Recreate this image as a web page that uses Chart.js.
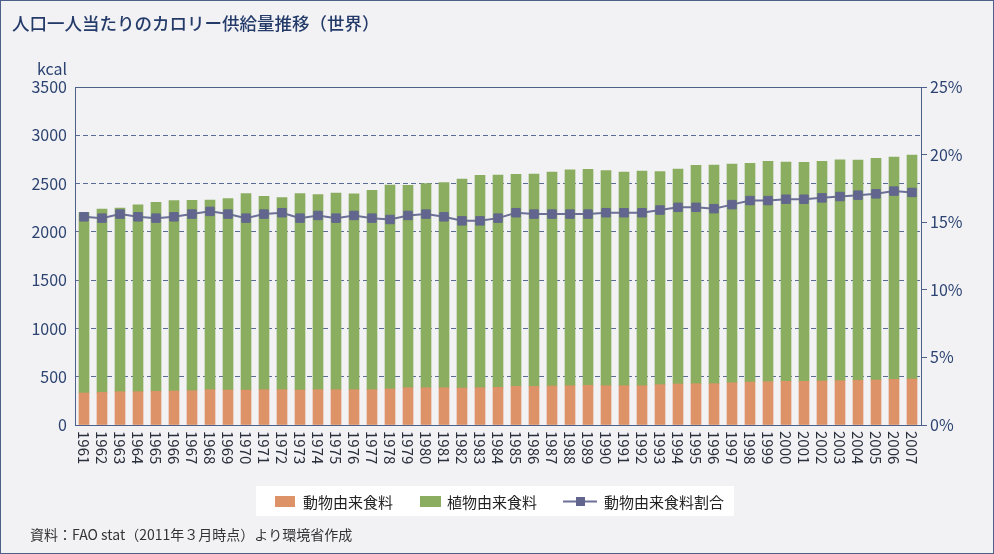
<!DOCTYPE html>
<html><head><meta charset="utf-8">
<script src="https://cdn.jsdelivr.net/npm/chart.js@4"></script>
<style>
html,body{margin:0;padding:0;background:#f2f2f5;}
#wrap{width:994px;height:554px;position:relative;}
</style></head><body><div id="wrap"><canvas id="c"></canvas></div>
<script>
const years = ['1961','1962','1963','1964','1965','1966','1967','1968','1969','1970','1971','1972','1973','1974','1975','1976','1977','1978','1979','1980','1981','1982','1983','1984','1985','1986','1987','1988','1989','1990','1991','1992','1993','1994','1995','1996','1997','1998','1999','2000','2001','2002','2003','2004','2005','2006','2007'];
const animal = [331,338,345,345,349,352,355,366,362,362,366,366,362,366,366,366,366,373,386,386,386,383,386,390,400,400,404,407,411,407,407,407,418,425,428,428,438,445,449,452,452,456,459,463,466,473,476];
const plant = [1872,1899,1902,1936,1957,1971,1972,1964,1982,2034,2002,1988,2034,2019,2036,2028,2064,2112,2096,2113,2123,2164,2199,2199,2196,2199,2216,2234,2237,2227,2213,2223,2205,2226,2261,2264,2265,2265,2281,2271,2268,2274,2288,2281,2295,2302,2320];
const ratio = [15.4,15.3,15.6,15.4,15.3,15.4,15.6,15.8,15.6,15.3,15.6,15.7,15.3,15.5,15.3,15.5,15.3,15.2,15.5,15.6,15.4,15.1,15.1,15.3,15.7,15.6,15.6,15.6,15.6,15.7,15.7,15.7,15.9,16.1,16.1,16.0,16.3,16.6,16.6,16.7,16.7,16.8,16.9,17.0,17.1,17.3,17.2];
const leftMax = 3500, leftStep = 500;
const rightMax = 25, rightStep = 5;
const titleText = '人口一人当たりのカロリー供給量推移（世界）';
const unitText = 'kcal';
const sourceText = '資料：FAO stat（2011年３月時点）より環境省作成';
const seriesNames = ['動物由来食料','植物由来食料','動物由来食料割合'];

const FONT = '"Noto Sans CJK JP", "Noto Sans", sans-serif';
const NAVY = '#2c4371';
const FRAME = '#4d6089';
const ORANGE = '#dd9367';
const GREEN = '#8bad5f';
const LINEC = '#6c6f96';
const MARK = '#62668e';

const decor = {
  id: 'decor',
  beforeDraw(chart) {
    const ctx = chart.ctx;
    ctx.save();
    ctx.fillStyle = '#f2f2f5';
    ctx.fillRect(0, 0, chart.width, chart.height);
    ctx.restore();
  },
  afterDraw(chart) {
    const ctx = chart.ctx;
    const a = chart.chartArea;
    const xs = chart.scales.x;
    ctx.save();
    ctx.strokeStyle = FRAME;
    ctx.lineWidth = 1;
    ctx.strokeRect(Math.round(a.left) + 0.5, Math.round(a.top) + 0.5, Math.round(a.right - a.left), Math.round(a.bottom - a.top));
    ctx.fillStyle = '#243b69';
    ctx.font = '500 17.5px ' + FONT;
    ctx.textAlign = 'left';
    ctx.textBaseline = 'middle';
    ctx.fillText(titleText, 12, 23);
    ctx.fillStyle = NAVY;
    ctx.font = '16px ' + FONT;
    ctx.textAlign = 'right';
    ctx.fillText(unitText, 67, 69);
    ctx.font = '15px ' + FONT;
    ctx.textAlign = 'left';
    ctx.textBaseline = 'middle';
    ctx.fillStyle = '#2a2f3c';
    years.forEach((y, i) => {
      const px = xs.getPixelForValue(i);
      ctx.save();
      ctx.translate(px, a.bottom + 6);
      ctx.rotate(Math.PI / 2);
      ctx.fillText(y, 0, 0);
      ctx.restore();
    });
    ctx.fillStyle = '#ffffff';
    ctx.fillRect(256, 486, 478, 30);
    ctx.fillStyle = ORANGE;
    ctx.fillRect(275, 496, 20, 11);
    ctx.fillStyle = GREEN;
    ctx.fillRect(420, 496, 21, 11);
    ctx.strokeStyle = LINEC;
    ctx.lineWidth = 2;
    ctx.beginPath();
    ctx.moveTo(563, 501.5);
    ctx.lineTo(597, 501.5);
    ctx.stroke();
    ctx.fillStyle = MARK;
    ctx.fillRect(576, 497, 9, 9);
    ctx.fillStyle = '#222';
    ctx.font = '15px ' + FONT;
    ctx.textAlign = 'left';
    ctx.textBaseline = 'middle';
    ctx.fillText(seriesNames[0], 303, 502);
    ctx.fillText(seriesNames[1], 447, 502);
    ctx.fillText(seriesNames[2], 604, 502);
    ctx.fillStyle = '#333';
    ctx.font = '14px ' + FONT;
    ctx.fillText(sourceText, 30, 535);
    ctx.strokeStyle = FRAME;
    ctx.lineWidth = 1;
    ctx.strokeRect(0.5, 0.5, chart.width - 1, chart.height - 1);
    ctx.restore();
  }
};

new Chart(document.getElementById('c'), {
  type: 'bar',
  data: {
    labels: years,
    datasets: [
      {
        type: 'line', label: seriesNames[2], data: ratio, yAxisID: 'y1', order: 0,
        borderColor: LINEC, borderWidth: 2, pointStyle: 'rect', pointRadius: 6,
        pointBackgroundColor: MARK, pointBorderColor: MARK, pointBorderWidth: 1, tension: 0
      },
      { label: seriesNames[0], data: animal, backgroundColor: ORANGE, stack: 's', yAxisID: 'y', order: 1, barThickness: 10 },
      { label: seriesNames[1], data: plant, backgroundColor: GREEN, stack: 's', yAxisID: 'y', order: 2, barThickness: 10 }
    ]
  },
  options: {
    responsive: true, maintainAspectRatio: false, animation: false,
    layout: { padding: { top: 87, left: 0, right: 0, bottom: 0 } },
    plugins: { legend: { display: false }, tooltip: { enabled: false } },
    scales: {
      x: {
        stacked: true,
        grid: { display: false },
        border: { display: false },
        ticks: { display: false },
        afterFit(s) { s.height = 129; }
      },
      y: {
        stacked: true, position: 'left', min: 0, max: leftMax,
        ticks: { stepSize: leftStep, color: NAVY, font: { family: FONT, size: 16 }, padding: 8, callback: v => String(v) },
        grid: { color: '#5a6b94', lineWidth: 1, drawTicks: false },
        border: { display: false, dash: [5, 3] },
        afterFit(s) { s.width = 75; }
      },
      y1: {
        position: 'right', min: 0, max: rightMax,
        ticks: { stepSize: rightStep, color: NAVY, font: { family: FONT, size: 16 }, padding: 3, callback: v => v + '%' },
        grid: { drawOnChartArea: false, drawTicks: true, tickLength: 6, color: FRAME },
        border: { display: false },
        afterFit(s) { s.width = 73; }
      }
    }
  },
  plugins: [decor]
});
</script>
</body></html>
